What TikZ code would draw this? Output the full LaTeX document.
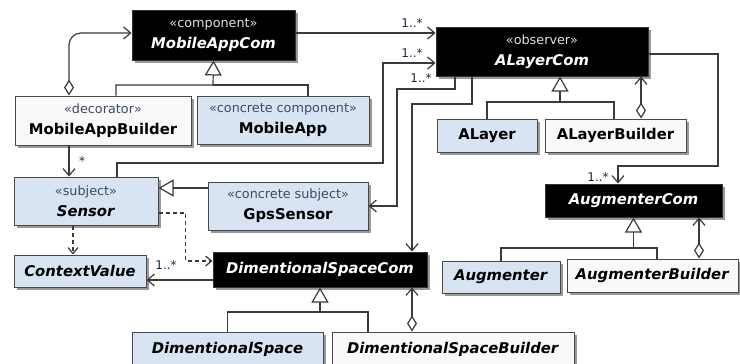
\documentclass[tikz,border=0pt]{standalone}
\usepackage{fontspec}
\setmainfont{DejaVu Sans}
\usetikzlibrary{arrows.meta,shadows}
\definecolor{boxblue}{HTML}{D9E4F3}
\definecolor{boxwhite}{HTML}{F9F9F9}
\definecolor{edgecol}{HTML}{3A3A3A}
\definecolor{boxedge}{HTML}{484848}
\definecolor{stereocol}{HTML}{3E4A66}
\definecolor{multcol}{HTML}{1E2850}
\newcommand{\sterl}[1]{{\color{stereocol}\fontsize{12.8}{21}\selectfont\mdseries «#1»}}
\newcommand{\sterd}[1]{{\color{white!88!black}\fontsize{12.8}{21}\selectfont\mdseries «#1»}}
\tikzset{
  umlbox/.style={draw=boxedge, line width=1pt, inner sep=0pt, align=center,
    font=\fontsize{14.8}{21}\selectfont\bfseries,
    drop shadow={shadow xshift=2.5pt,shadow yshift=-2.5pt,fill=black!40,opacity=1}},
  bluebox/.style={umlbox, fill=boxblue, text=black},
  whitebox/.style={umlbox, fill=boxwhite, text=black},
  darkbox/.style={umlbox, fill=black, draw=black!80, text=white},
  line/.style={draw=edgecol, line width=1.2pt},
  assoc/.style={line, -{Straight Barb[length=7pt,width=12pt]}},
  agg/.style={line, {Diamond[length=16pt,width=10pt,fill=white]}-{Straight Barb[length=7pt,width=12pt]}},
  gen/.style={line, -{Triangle[length=15pt,width=17pt,fill=white]}},
  dep/.style={line, dash pattern=on 4pt off 3pt, -{Straight Barb[length=6pt,width=10pt]}},
  mult/.style={text=multcol, font=\fontsize{12}{12}\selectfont, inner sep=0pt},
}
\begin{document}
\begin{tikzpicture}[x=1pt,y=-1pt]
\fill[white] (0,0) rectangle (740,364);
\useasboundingbox (0,0) rectangle (740,364);

% nodes
\node[darkbox, minimum width=163pt, minimum height=50pt] (MAC) at (213.5,35) {\sterd{component}\\\textit{MobileAppCom}};
\node[whitebox, minimum width=176pt, minimum height=49pt] (MAB) at (103,120.5) {\sterl{decorator}\\MobileAppBuilder};
\node[bluebox, minimum width=172pt, minimum height=48pt] (MA) at (283,120) {\sterl{concrete component}\\MobileApp};
\node[darkbox, minimum width=212pt, minimum height=49pt] (ALC) at (542,51.5) {\sterd{observer}\\\textit{ALayerCom}};
\node[bluebox, minimum width=100pt, minimum height=33pt] (AL) at (487,135.5) {ALayer};
\node[whitebox, minimum width=141pt, minimum height=33pt] (ALB) at (615.5,135.5) {ALayerBuilder};
\node[bluebox, minimum width=144pt, minimum height=48pt] (SEN) at (86,201) {\sterl{subject}\\\textit{Sensor}};
\node[bluebox, minimum width=160pt, minimum height=48pt] (GPS) at (288,206) {\sterl{concrete subject}\\GpsSensor};
\node[bluebox, minimum width=132pt, minimum height=32pt] (CV) at (80,271) {\textit{ContextValue}};
\node[darkbox, minimum width=214pt, minimum height=35pt] (DSC) at (320,269.5) {\textit{DimentionalSpaceCom}};
\node[darkbox, minimum width=177pt, minimum height=33pt] (AUC) at (633.5,200.5) {\textit{AugmenterCom}};
\node[bluebox, minimum width=118pt, minimum height=32pt] (AU) at (501,277) {\textit{Augmenter}};
\node[whitebox, minimum width=171pt, minimum height=33pt] (AUB) at (652.5,275.5) {\textit{AugmenterBuilder}};
\node[bluebox, minimum width=191pt, minimum height=38pt] (DS) at (227.5,351) {\raisebox{7pt}{\textit{DimentionalSpace}}};
\node[whitebox, minimum width=242pt, minimum height=38pt] (DSB) at (453,351) {\raisebox{7pt}{\textit{DimentionalSpaceBuilder}}};

% connectors
\draw[agg, rounded corners=12pt] ([xshift=-34pt]MAB.north) |- ([yshift=2pt]MAC.west);
\draw[assoc] ([yshift=2pt]MAC.east) -- ([yshift=2pt]MAC.east -| ALC.west);
\coordinate (g1) at (213,85);
\draw[gen] ([xshift=13pt]MAB.north) |- (g1) -- (MAC.south);
\draw[line] ([xshift=25pt]MA.north) |- (g1);

\draw[assoc] ([xshift=31pt]SEN.north) |- (383,163) |- ([yshift=-11.5pt]ALC.west);
\draw[assoc] ([xshift=-87pt]ALC.south) |- (397,89) |- (GPS.east);
\draw[assoc] ([xshift=-70pt]ALC.south) |- (412,104) -- ([xshift=92pt]DSC.north);
\draw[assoc] ([yshift=-2.5pt]ALC.east) -| (718,166) -| ([xshift=-15.5pt]AUC.north);

\coordinate (g2) at (560,102);
\draw[gen] (AL.north) |- (g2) -- ([xshift=18pt]ALC.south);
\draw[line] ([xshift=-1.5pt]ALB.north) |- (g2);
\draw[agg] ([xshift=25.5pt]ALB.north) -- ([xshift=25.5pt]ALB.north |- ALC.south);

\draw[gen] ([yshift=18pt]GPS.west) -- ([yshift=18pt]GPS.west -| SEN.east);
\draw[assoc] ([xshift=-34pt]MAB.south) -- ([xshift=-34pt]MAB.south |- SEN.north);
\draw[dep] ([xshift=-13pt]SEN.south) -- ([xshift=-13pt]SEN.south |- CV.north);
\draw[dep] ([yshift=-12pt]SEN.east) -| ([xshift=-27pt,yshift=8.5pt]DSC.west) -- ([yshift=8.5pt]DSC.west);
\draw[assoc] ([yshift=-10.5pt]DSC.west) -- ([yshift=-10.5pt]DSC.west -| CV.east);

\coordinate (g3) at (320,312);
\draw[gen] (DS.north) |- (g3) -- (DSC.south);
\draw[line] ([xshift=-85pt]DSB.north) |- (g3);
\draw[agg] ([xshift=-41pt]DSB.north) -- ([xshift=-41pt]DSB.north |- DSC.south);

\coordinate (g4) at (633.5,248);
\draw[gen] (AU.north) |- (g4) -- (AUC.south);
\draw[line] ([xshift=4.5pt]AUB.north) |- (g4);
\draw[agg] ([xshift=46.5pt]AUB.north) -- ([xshift=46.5pt]AUB.north |- AUC.south);

% multiplicities
\node[mult] (m1) at (412,23) {1..*};
\node[mult] (m2) at (412,53) {1..*};
\node[mult] (m3) at (421,78) {1..*};
\node[mult] (m4) at (598,177) {1..*};
\node[mult] (m5) at (166,265) {1..*};
\node[mult] (m6) at (82,161) {*};
\end{tikzpicture}
\end{document}
